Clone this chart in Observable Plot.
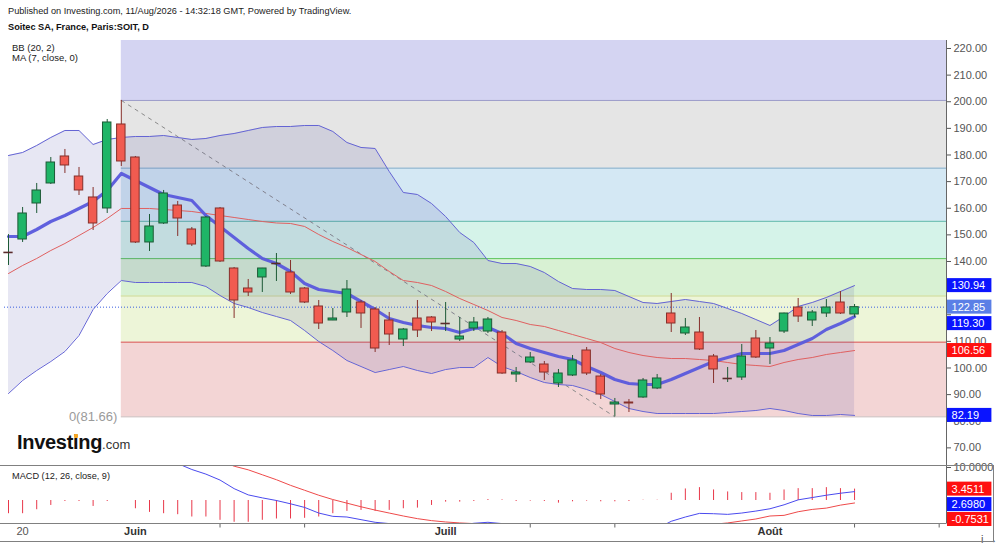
<!DOCTYPE html>
<html><head><meta charset="utf-8">
<script src="https://cdn.jsdelivr.net/npm/d3@7"></script>
<script src="https://cdn.jsdelivr.net/npm/@observablehq/plot@0.6"></script>
<style>
body{margin:0;background:#fff;font-family:"Liberation Sans",Arial,sans-serif;}
#wrap{position:relative;width:1000px;height:545px;overflow:hidden;background:#fff;}
.abs{position:absolute;}
.hl{position:absolute;height:1px;background:#808080;}
.vl{position:absolute;width:1px;background:#808080;}
</style></head><body>
<div id="wrap">
  <div id="main" class="abs" style="left:0;top:40px"></div>
  <div id="macd" class="abs" style="left:0;top:465px"></div>
  <div class="abs" style="left:8px;top:6px;font-size:9.2px;line-height:11px;color:#222;white-space:nowrap">Published on Investing.com, 11/Aug/2026 - 14:32:18 GMT, Powered by TradingView.</div>
  <div class="abs" style="left:8px;top:22px;font-size:9.2px;line-height:11px;font-weight:bold;color:#111;white-space:nowrap">Soitec SA, France, Paris:SOIT, D</div>
  <div class="abs" style="left:12px;top:43px;font-size:9.5px;line-height:10px;color:#222;white-space:nowrap">BB (20, 2)<br>MA (7, close, 0)</div>
  <div class="abs" style="left:17px;top:432px;line-height:20px;white-space:nowrap;color:#111"><span style="font-size:20px;font-weight:bold;letter-spacing:-0.3px">Investing</span><span style="font-size:13px;color:#333">.com</span></div>
  <div class="abs" style="left:74px;top:434px;width:4px;height:4px;background:#f5a623;border-radius:1px"></div>
  <div class="abs" style="left:12px;top:471px;font-size:9.2px;line-height:10px;color:#222;white-space:nowrap">MACD (12, 26, close, 9)</div>
  <div class="hl" style="left:0;top:465px;width:993px"></div>
  <div class="hl" style="left:0;top:523px;width:946px"></div>
  <div class="hl" style="left:0;top:541px;width:993px"></div>
  <div class="vl" style="left:993px;top:465px;height:77px"></div>
</div>
<script>
// ---- candle data (daily, 19 May – 11 Aug 2026) ----
const open  = [143.4,148.26,161.78,169.3,179.44,171.92,164.04,159.91,191.46,179.06,147.14,154.27,161.03,152.02,138.12,159.91,137.37,129.86,133.99,139.25,135.87,129.86,123.1,117.84,120.85,124.6,121.97,117.84,110.7,118.59,118.97,116.71,110.7,114.84,113.7,113.33,97.56,102.07,101.31,94.18,97.18,106.57,96.8,86.29,87.04,88.92,92.3,120.47,112.96,113.33,104.32,96.06,96.43,111.08,107.32,113.7,122.72,117.84,120.47,124.6,120.1];
const high  = [150.1,160.28,169.3,179.06,182.07,175.31,167.79,193.33,200.5,179.44,157.65,166.67,162.54,152.77,156.9,160.28,137.75,133.24,137.4,143.0,140.38,130.2,125.35,122.35,132.86,125.35,122.72,120.85,114.84,125.35,119.3,124.6,118.97,118.97,118.97,114.08,100.19,105.82,102.44,99.44,104.69,107.7,97.56,88.55,88.17,96.06,97.56,127.98,118.59,118.97,105.07,100.19,108.83,114.08,111.45,120.6,126.1,121.6,125.73,128.73,123.85];
const low   = [138.5,147.14,158.03,168.92,173.05,164.79,151.64,158.03,175.68,146.76,143.76,153.9,149.39,145.63,137.75,139.62,118.59,126.85,128.36,132.49,127.61,124.2,114.46,117.8,118.97,114.84,105.82,108.45,108.07,111.45,113.7,113.7,109.95,113.7,112.96,97.6,94.55,101.69,95.31,92.68,96.8,97.18,88.17,81.66,83.28,88.6,91.9,113.33,112.2,106.57,94.18,94.55,95.31,103.56,101.31,112.96,117.09,115.59,118.97,120.1,118.97];
const close = [143.4,158.03,166.67,177.18,176.06,166.67,154.27,192.21,177.56,147.14,153.15,165.54,156.15,146.38,156.53,140.0,125.35,128.36,137.37,139.25,128.36,124.6,116.71,118.59,129.48,120.47,107.32,112.58,114.46,114.08,117.09,116.71,111.83,117.09,118.22,97.93,98.3,103.94,98.3,97.93,102.82,97.93,90.05,87.04,86.67,95.31,96.06,116.71,115.21,106.95,99.44,96.06,104.32,103.94,109.2,120.47,119.34,120.85,122.72,120.47,122.85];
// ---- Bollinger Bands (20, 2) and MA (7) ----
const bbUpper = [179.81,180.94,183.57,186.57,189.2,189.2,183.94,185.82,186.57,186.95,186.95,187.32,186.57,185.82,186.2,187.32,188.07,189.2,190.33,190.7,190.7,191.08,191.08,188.83,184.69,182.82,182.44,173.8,165.91,165.16,161.78,156.9,150.89,147.13,140.37,139.24,139.24,138.12,135.86,132.48,129.85,129.48,129.48,129.1,126.85,124.6,124.22,124.97,125.72,124.97,124.22,122.34,120.47,118.21,115.96,119.34,123.1,124.6,126.48,128.73,130.94];
const bbMid   = [135.49,138.5,141.13,144.13,146.76,149.76,152.77,156.15,159.91,159.91,159.91,159.53,159.16,158.78,158.03,157.28,156.53,155.77,155.02,154.46,154.27,153.15,150.14,147.51,145.26,142.63,140.0,136.25,132.86,132.11,130.98,128.73,126.1,123.85,121.6,118.97,117.84,116.34,115.59,114.08,112.58,111.08,109.57,107.32,105.82,104.69,103.94,103.56,103.56,103.19,102.81,102.06,101.31,100.94,100.56,102.06,103.19,103.94,105.07,105.82,106.56];
const bbLower = [90.42,95.3,99.06,102.44,106.2,112.21,121.97,127.98,132.86,132.11,132.11,132.11,132.11,132.11,130.61,127.23,124.22,122.72,120.84,119.34,117.84,114.08,109.95,106.57,102.81,100.56,98.3,99.43,100.56,99.06,97.93,99.43,100.18,100.18,103.94,100.56,98.68,96.43,94.55,93.8,93.43,91.92,90.05,87.42,84.79,83.66,82.91,82.91,82.91,82.91,82.91,83.28,83.66,84.04,84.79,84.04,82.91,82.16,82.16,82.53,82.19];
const ma7     = [149.39,149.39,152.02,155.02,157.28,159.91,162.53,166.67,173.05,170.42,167.79,165.16,164.04,162.91,157.28,153.15,149.01,144.88,141.13,139.25,136.24,131.74,129.48,128.73,127.98,124.98,121.97,118.59,117.09,115.96,115.21,114.84,113.33,114.84,115.21,112.96,109.2,107.32,105.82,104.32,103.19,100.56,98.3,95.67,94.18,93.8,93.8,95.67,97.93,100.19,102.44,103.94,105.45,105.45,105.45,106.57,108.83,111.08,114.46,116.71,119.3];
// ---- MACD (12, 26, close, 9) ----
const macdLine   = [14,14.2,15.5,17,17.5,17.5,16.5,18.5,18.5,16,14.5,13,11.2,9.4,8.0,6.2,3.6,1.7,0.8,0.0,-1.0,-2.1,-3.8,-4.8,-5.0,-5.8,-6.6,-7.0,-7.2,-7.7,-7.6,-7.3,-7.5,-6.9,-6.6,-7.0,-7.7,-7.8,-8.1,-8.8,-8.6,-8.5,-8.8,-8.9,-8.9,-8.5,-8.5,-6.3,-5.0,-3.9,-4.0,-4.2,-3.8,-3.2,-2.5,-1.3,0.2,0.9,1.6,2.2,2.698];
const signalLine = [18,18.2,18.3,18.5,17.8,17.8,18.3,18.8,18.5,18.5,18.3,17,15.7,14.4,13,12.1,10.4,9.3,7.8,6.3,4.6,3.1,1.6,0.3,-0.8,-1.9,-2.9,-3.8,-4.7,-5.5,-6.1,-6.5,-6.8,-7.0,-7.0,-7.2,-7.4,-7.6,-7.8,-8.0,-8.2,-8.3,-8.4,-8.5,-8.6,-8.6,-8.6,-8.5,-8.5,-7.8,-7.2,-6.8,-6.2,-5.6,-4.7,-4.5,-3.4,-2.7,-2.3,-1.4,-0.7531];
const macdHist   = [-4.0,-4.0,-2.8,-1.5,-0.3,-0.3,-1.8,-0.3,0,-2.5,-3.6,-4.0,-4.3,-5.0,-5.0,-6.0,-6.6,-6.6,-6.0,-5.6,-5.6,-5.4,-5.0,-4.0,-3.3,-3.0,-3.3,-3.0,-2.5,-2.3,-1.5,-0.5,-0.5,-0.3,0.3,0.2,-0.3,-0.2,-0.3,-0.8,-0.4,-0.2,-0.4,-0.4,-0.3,0.1,0.1,2.2,3.5,3.9,3.2,2.6,2.4,2.4,2.2,3.2,3.6,3.6,3.9,3.6,3.4511];
// ---- Fibonacci retracement ----
const fibLow = 81.66, fibHigh = 200.5, fibStart = 8, fibEnd = 43;
const fibRatios = [0, 0.236, 0.382, 0.5, 0.618, 0.786, 1, 1.618];
// ---- axis ticks (130 and 120 sit fully behind the value tags) ----
const yTicks = [70,80,90,100,110,120,130,140,150,160,170,180,190,200,210,220];
const yTickHidden = [120,130];
const macdTicks = [10];
const xTickIdx = [15,21,37,43,60,66];
const xLabelIdx = [1,9,31,54];
const xLabelText = ["20","Juin","Juill","Août"];

// ---- styles ----
const fibFills = ["#f3d5d5","#edf5d8","#d8f1d3","#d5f3e9","#d4e8f4","#e5e5e5","#d4d4f2"];
const fibLines = ["#c8b8b8","#d9534f","#c8d890","#5cc45c","#5ab5a8","#80a8c4","#9898c8"];
const GREEN = "#1fb567", RED = "#f15b50", GEDGE = "#1d5a36", REDGE = "#86302b";

const N = close.length;
const I = d3.range(N);
const xMin = -0.284, xMax = 66.52;
const up = i => close[i] >= open[i];
const fibLevel = r => fibLow + r * (fibHigh - fibLow);
const bands = fibFills.map((c, k) => ({y1: fibLevel(fibRatios[k]), y2: fibLevel(fibRatios[k + 1]), c}));
const levels = fibLines.map((c, k) => ({v: fibLevel(fibRatios[k]), c}));
const last = a => a[a.length - 1];
const font = {fontFamily: "Liberation Sans, Arial, sans-serif", fontSize: "11px", color: "#555", background: "transparent", overflow: "visible"};
const xLabels = xLabelIdx.map((d, k) => ({i: d, t: xLabelText[k]}));

function valueBox(v, color, dy, half, digits) {
  return [
    Plot.rect([v], {x1: xMax + 0.07, x2: xMax + 3.22, y1: d => d - half, y2: d => d + half, fill: color, dy}),
    Plot.text([v], {x: xMax + 0.36, y: d => d, text: d => d.toFixed(digits), fill: "white", textAnchor: "start", dy, fontSize: 11})
  ];
}

const mainHalf = 7 / 2.6625;
const main = Plot.plot({
  width: 1000, height: 425, marginTop: 0, marginBottom: 0, marginLeft: 4, marginRight: 54,
  x: {domain: [xMin, xMax], axis: null},
  y: {domain: [63.38, 223.0], axis: null},
  style: font,
  marks: [
    Plot.rect(bands, {x1: fibStart, x2: xMax, y1: "y1", y2: "y2", fill: d => d.c, clip: true}),
    Plot.ruleY(levels, {y: "v", x1: fibStart, x2: xMax, stroke: d => d.c, strokeWidth: 1}),
    Plot.link([0], {x1: fibStart, y1: fibHigh, x2: fibEnd, y2: fibLow, stroke: "#8a8a8a", strokeDasharray: "4,4", strokeWidth: 1}),
    Plot.areaY(I, {x: i => i, y1: i => bbLower[i], y2: i => bbUpper[i], fill: "rgb(70,70,160)", fillOpacity: 0.13}),
    Plot.line(I, {x: i => i, y: i => bbUpper[i], stroke: "#6464d4", strokeWidth: 1}),
    Plot.line(I, {x: i => i, y: i => bbLower[i], stroke: "#6464d4", strokeWidth: 1}),
    Plot.line(I, {x: i => i, y: i => bbMid[i], stroke: "#e06060", strokeWidth: 1}),
    Plot.ruleY([last(close)], {x1: xMin, x2: xMax, stroke: "#3a5ee0", strokeDasharray: "1,2", strokeWidth: 1}),
    Plot.line(I, {x: i => i, y: i => ma7[i], stroke: "#5858dc", strokeWidth: 3.2, strokeOpacity: 0.95}),
    Plot.ruleX(I, {x: i => i, y1: i => low[i], y2: i => high[i], stroke: i => up(i) ? GEDGE : REDGE, strokeWidth: 1}),
    Plot.rect(I.filter(i => Math.abs(open[i] - close[i]) >= 0.2), {x1: i => i - 0.3, x2: i => i + 0.3, y1: i => open[i], y2: i => close[i], fill: i => up(i) ? GREEN : RED, stroke: i => up(i) ? GEDGE : REDGE, strokeWidth: 1}),
    Plot.ruleY(I.filter(i => Math.abs(open[i] - close[i]) < 0.2), {y: i => close[i], x1: i => i - 0.33, x2: i => i + 0.33, stroke: "#5a2b2b", strokeWidth: 1.6}),
    Plot.text([fibLow], {x: fibStart, y: d => d, text: d => `0(${d.toFixed(2)})`, textAnchor: "end", dx: -4, fill: "#9a9a9a", fontSize: 13}),
    Plot.axisY(yTicks, {anchor: "right", tickSize: 4, tickPadding: 3, tickFormat: d => yTickHidden.includes(d) ? "" : d.toFixed(2), fontSize: 11}),
    Plot.ruleX([xMax], {stroke: "#666"}),
    ...valueBox(last(bbUpper), "#0a14ff", 0, mainHalf, 2),
    ...valueBox(last(close), "#5b7fe6", 0, mainHalf, 2),
    ...valueBox(last(ma7), "#0a14ff", 7, mainHalf, 2),
    ...valueBox(last(bbMid), "#ff1010", 0, mainHalf, 2),
    ...valueBox(last(bbLower), "#0a14ff", 0, mainHalf, 2)
  ]
});
document.getElementById("main").appendChild(main);

const macdHalf = 7 / 3.3;
const macd = Plot.plot({
  width: 1000, height: 80, marginTop: 0, marginBottom: 21.5, marginLeft: 4, marginRight: 54,
  x: {domain: [xMin, xMax], axis: null},
  y: {domain: [-7.12, 10.61], axis: null},
  style: font,
  marks: [
    Plot.ruleX(I, {x: i => i, y1: 0, y2: i => macdHist[i], stroke: "#e8384a", strokeWidth: 1}),
    Plot.line(I, {x: i => i, y: i => macdLine[i], stroke: "#4a4aee", strokeWidth: 1, clip: true}),
    Plot.line(I, {x: i => i, y: i => signalLine[i], stroke: "#ee4a4a", strokeWidth: 1, clip: true}),
    Plot.axisY(macdTicks, {anchor: "right", tickSize: 4, tickPadding: 3, tickFormat: d => d.toFixed(4), fontSize: 11}),
    Plot.ruleX([xMax], {stroke: "#666"}),
    Plot.axisX(xTickIdx, {anchor: "bottom", tickSize: 4, tickFormat: () => "", stroke: "#666"}),
    Plot.text(xLabels.filter(d => d.i === xLabelIdx[0]), {x: "i", text: "t", frameAnchor: "bottom", dy: 11, fill: "#555", fontSize: 11}),
    Plot.text(xLabels.filter(d => d.i !== xLabelIdx[0]), {x: "i", text: "t", frameAnchor: "bottom", dy: 11, fill: "#333", fontWeight: "bold", fontSize: 11}),
    ...valueBox(last(macdHist), "#ff1010", 0, macdHalf, 4),
    ...valueBox(last(macdLine), "#0a14ff", 13, macdHalf, 4),
    ...valueBox(last(signalLine), "#ff1010", 16.5, macdHalf, 4)
  ]
});
document.getElementById("macd").appendChild(macd);
</script>
</body></html>
